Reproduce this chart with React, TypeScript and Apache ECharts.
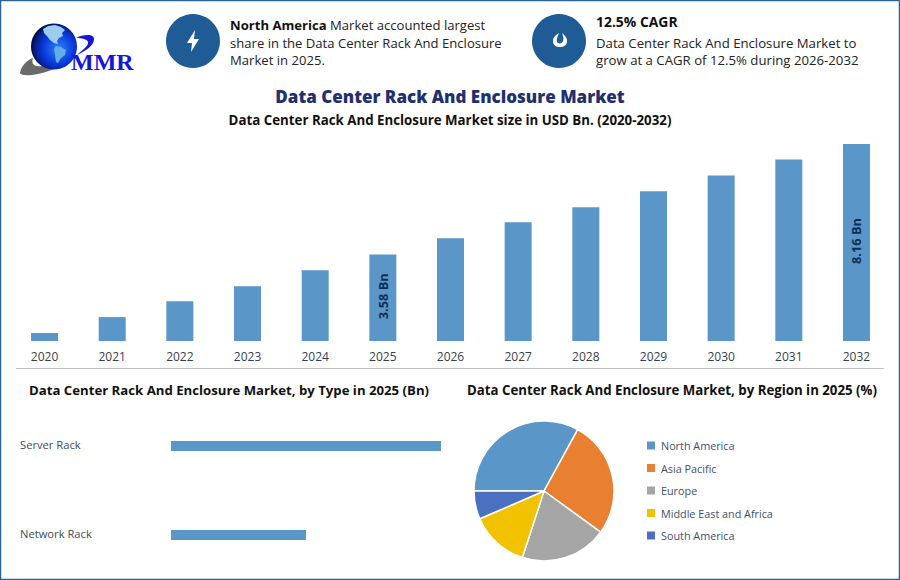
import React, { useEffect, useRef } from "react";
import * as echarts from "echarts";

const years = ["2020","2021","2022","2023","2024","2025","2026","2027","2028","2029","2030","2031","2032"];
const marketSize = [0.33,0.99,1.65,2.27,2.93,3.58,4.26,4.92,5.54,6.2,6.86,7.52,8.16];
const labelledYears = ["2025","2032"];
const types = ["Server Rack","Network Rack"];
const typeValues = [2.39,1.195];
const regions = ["North America","Asia Pacific","Europe","Middle East and Africa","South America"];
const regionShares = [33,27,20,13.5,6.5];
const regionColors = ["#5B96C8","#E97F31","#A5A5A5","#F2C100","#4A70BF"];

const FONT = "'Open Sans', 'Noto Sans', sans-serif";
const BAR = "#5B96C8";
const NAVY = "#1F5B94";

echarts.graphic.registerShape("swoosh", echarts.graphic.extendPath(
  "M20 73 C21 66 27 60 33 58 C31 64 34 67 42 66 C52 64 64 61 74 56 C66 65 48 73 32 75 C25 75.5 21 75 20 73 Z", {}));
echarts.graphic.registerShape("hook", echarts.graphic.extendPath(
  "M76 38 C82 35 94 33 94 39 C94 46 85 51 77 55 C82 50 89 46 88 42 C87 39 82 38 76 38 Z", {}));
echarts.graphic.registerShape("landA", echarts.graphic.extendPath(
  "M43 29 L48 26 L55 25 L61 27 L65 30 L62 33 L63 36 L59 38 L57 41 L58 44 L54 43 L50 40 L47 36 L44 33 Z", {}));
echarts.graphic.registerShape("landB", echarts.graphic.extendPath(
  "M56 46 L61 47 L66 50 L65 55 L61 58 L58 63 L56 62 L55 55 L54 49 Z", {}));
echarts.graphic.registerShape("flame", echarts.graphic.extendPath(
  "M559 33 C556 35 553 37 553 41 C553 45 556 47 560 47 C564 47 567 45 567 41 C567 37 564 35 562 33 C563 36 564 38 563 41 C562 44 558 44 557 42 C556 39 558 36 559 33 Z", {}));

export default function App() {
  const ref = useRef<HTMLDivElement>(null);
  useEffect(() => {
    document.body.style.margin = "0";
    const chart = echarts.init(ref.current!, undefined, { renderer: "svg" });
    chart.setOption({
      animation: false,
      backgroundColor: "#fff",
      textStyle: { fontFamily: FONT },
      grid: [
        { left: 10.7, width: 879.6, top: 130, height: 211 },
        { left: 171, width: 270, top: 401.5, height: 178 },
      ],
      xAxis: [
        { type: "category", gridIndex: 0, data: years,
          axisLine: { show: false }, axisTick: { show: false },
          axisLabel: { color: "#333F50", fontSize: 12, margin: 9, interval: 0, fontFamily: FONT } },
        { type: "value", gridIndex: 1, min: 0, max: typeValues[0], show: false },
      ],
      yAxis: [
        { type: "value", gridIndex: 0, min: 0, max: 8.74, show: false },
        { type: "category", gridIndex: 1, data: types, inverse: true,
          axisLine: { show: false }, axisTick: { show: false },
          axisLabel: { align: "left", margin: 151, formatter: "{a|{value}}",
            rich: { a: { color: "#3E4A5C", fontSize: 11.2, fontFamily: FONT, padding: [0, 0, 4, 0] } } } },
      ],
      series: [
        { type: "bar", xAxisIndex: 0, yAxisIndex: 0, barWidth: 27,
          itemStyle: { color: BAR },
          data: marketSize.map((v, i) => ({
            value: v,
            label: labelledYears.includes(years[i])
              ? { show: true, position: "inside", rotate: 90, offset: [1.5, 0], formatter: `${v.toFixed(2)} Bn`,
                  color: "#0E2F55", fontSize: 12.8, fontWeight: "bold", fontFamily: FONT }
              : { show: false },
          })) },
        { type: "bar", xAxisIndex: 1, yAxisIndex: 1, barWidth: 10, itemStyle: { color: BAR },
          data: typeValues },
        { type: "pie", center: [544, 491], radius: [0, 70], startAngle: 180, clockwise: true,
          label: { show: false }, labelLine: { show: false }, silent: true,
          itemStyle: { borderColor: "#fff", borderWidth: 1.5 },
          data: regions.map((n, i) => ({ name: n, value: regionShares[i], itemStyle: { color: regionColors[i] } })) },
      ],
      legend: {
        orient: "vertical", left: 645, top: 437.3, padding: 0, itemWidth: 10, itemHeight: 10, itemGap: 6, icon: "rect",
        data: regions, selectedMode: false,
        textStyle: { color: "#3E4F6B", fontSize: 10.8, fontFamily: FONT, padding: 0, lineHeight: 16.5 },
      },
      graphic: [
        { type: "rect", shape: { x: 0.5, y: 0.5, width: 899, height: 579 }, style: { fill: "none", stroke: "#2A6496", lineWidth: 1.5 } },
        { type: "line", shape: { x1: 16, y1: 368.5, x2: 884, y2: 368.5 }, style: { stroke: "#BFBFC4", lineWidth: 1 } },
        // logo
        { type: "swoosh", style: { fill: "#6A6A6A" } },
        { type: "hook", style: { fill: "#1414E0" } },
        { type: "circle", shape: { cx: 54, cy: 46.5, r: 23 },
          style: { fill: new echarts.graphic.RadialGradient(0.6, 0.55, 0.62, [
            { offset: 0, color: "#2A86F2" }, { offset: 0.55, color: "#0A38DC" }, { offset: 0.85, color: "#041C80" }, { offset: 1, color: "#010625" },
          ]) } },
        { type: "landA", style: { fill: "#9CCDEF" } },
        { type: "landB", style: { fill: "#62AEEA" } },
        { type: "text", x: 71, y: 50, style: { text: "MMR", fill: "#1414E0", font: "bold 24px 'Liberation Serif', serif" } },
        // header badges
        { type: "circle", shape: { cx: 193, cy: 41, r: 27 }, style: { fill: NAVY } },
        { type: "polygon", shape: { points: [[195, 30], [187, 43], [192, 43], [191, 52], [199, 39], [194, 39]] }, style: { fill: "#fff" } },
        { type: "circle", shape: { cx: 559, cy: 41, r: 27 }, style: { fill: NAVY } },
        { type: "flame", style: { fill: "#fff" } },
        // header text
        { type: "text", x: 230, y: 16.5, style: {
          text: "{b|North America} Market accounted largest\nshare in the Data Center Rack And Enclosure\nMarket in 2025.",
          fill: "#222", font: `13.1px ${FONT}`, lineHeight: 17.5,
          rich: { b: { fontWeight: "bold", fontSize: 13.1, fill: "#111", fontFamily: FONT, lineHeight: 17.5 } } } },
        { type: "text", x: 596, y: 14, style: { text: "12.5% CAGR", fill: "#111", font: `bold 13.9px ${FONT}` } },
        { type: "text", x: 596, y: 34, style: {
          text: "Data Center Rack And Enclosure Market to\ngrow at a CAGR of 12.5% during 2026-2032",
          fill: "#222", font: `13.2px ${FONT}`, lineHeight: 17 } },
        // titles
        { type: "text", x: 450, y: 96, style: { text: "Data Center Rack And Enclosure Market", fill: "#1F3070",
          font: `800 17px ${FONT}`, align: "center", verticalAlign: "middle" } },
        { type: "text", x: 450, y: 120, style: { text: "Data Center Rack And Enclosure Market size in USD Bn. (2020-2032)", fill: "#111",
          font: `bold 13.3px ${FONT}`, align: "center", verticalAlign: "middle" } },
        { type: "text", x: 229, y: 390, style: { text: "Data Center Rack And Enclosure Market, by Type in 2025 (Bn)", fill: "#111",
          font: `bold 13.2px ${FONT}`, align: "center", verticalAlign: "middle" } },
        { type: "text", x: 672, y: 390, style: { text: "Data Center Rack And Enclosure Market, by Region in 2025 (%)", fill: "#111",
          font: `bold 13.25px ${FONT}`, align: "center", verticalAlign: "middle" } },
      ],
    });
    return () => chart.dispose();
  }, []);
  return <div ref={ref} style={{ width: 900, height: 580 }} />;
}
